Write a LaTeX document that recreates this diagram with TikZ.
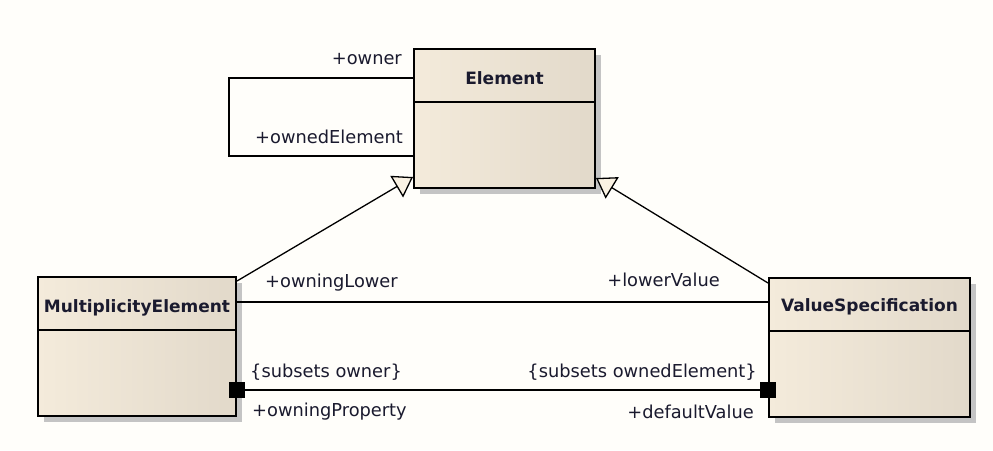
\documentclass[tikz,border=0pt]{standalone}
\usepackage{fontspec}
\setmainfont{DejaVu Sans}
\usetikzlibrary{arrows.meta,shadows,calc}
\definecolor{bg}{HTML}{FFFEFA}
\definecolor{cleft}{HTML}{F4EBDB}
\definecolor{cmid}{HTML}{FAF2E3}
\definecolor{cright}{HTML}{E2D9CA}
\definecolor{shadowgray}{HTML}{C4C4C4}
\definecolor{txt}{HTML}{1A1A2E}
\begin{document}
\begin{tikzpicture}[x=1pt,y=-1pt,
  umlbox/.style={draw=black, line width=2pt, left color=cleft, middle color=cmid, right color=cright,
    drop shadow={shadow xshift=6pt, shadow yshift=-6pt, fill=shadowgray, opacity=1},
    anchor=north west, inner sep=0pt},
  title/.style={font=\fontsize{17}{20}\selectfont\bfseries, text=txt, inner sep=0pt},
  role/.style={font=\fontsize{17.8}{20}\selectfont, text=txt, inner sep=0pt},
  conn/.style={draw=black, line width=1.6pt},
  gen/.style={draw=black, line width=1.3pt, -{Triangle[length=19pt,width=25pt,fill=cmid,line width=1.3pt]}},
  sq/.style={fill=black, minimum size=16pt, inner sep=0pt}
]
\fill[bg] (0,0) rectangle (993,450);
\useasboundingbox (0,0) rectangle (993,450);

% boxes
\node[umlbox, minimum width=181pt, minimum height=139pt] (elem) at (413,48) {};
\node[umlbox, minimum width=198pt, minimum height=139pt] (mult) at (37,276) {};
\node[umlbox, minimum width=201pt, minimum height=139pt] (vs) at (768,277) {};

% dividers
\draw[line width=1.6pt] ([yshift=-54pt]elem.north west) -- ([yshift=-54pt]elem.north east);
\draw[line width=1.6pt] ([yshift=-54pt]mult.north west) -- ([yshift=-54pt]mult.north east);
\draw[line width=1.6pt] ([yshift=-54pt]vs.north west) -- ([yshift=-54pt]vs.north east);

% titles
\node[title] (elemT) at ([yshift=-30pt]elem.north) {Element};
\node[title] (multT) at ([yshift=-32pt]mult.north) {MultiplicityElement};
\node[title] (vsT) at ([yshift=-30pt]vs.north) {ValueSpecification};

% self association
\draw[conn] ([yshift=-30pt]elem.north west) -- ++(-184,0) |- ([yshift=-108pt]elem.north west);
\node[role, anchor=east] (owner) at (402,59) {+owner};
\node[role, anchor=east] (ownedEl) at (403,137) {+ownedElement};

% generalizations
\draw[gen] ([yshift=-5pt]mult.north east) -- ([yshift=12pt]elem.south west);
\draw[gen] ([yshift=-6pt]vs.north west) -- ([yshift=11pt]elem.south east);

% association owningLower / lowerValue
\draw[conn] ([yshift=-26pt]mult.north east) -- ([yshift=-25pt]vs.north west);
\node[role, anchor=west] (owningLower) at (265,283) {+owningLower};
\node[role, anchor=east] (lowerValue) at (720,280) {+lowerValue};

% composition owningProperty / defaultValue
\node[sq] (sqL) at ([yshift=-114pt]mult.north east) {};
\node[sq] (sqR) at ([yshift=-113pt]vs.north west) {};
\draw[conn] (sqL.center) -- (sqR.center);
\node[role, anchor=west] (subOwner) at (250,372) {\{subsets owner\}};
\node[role, anchor=west] (owningProp) at (252,412) {+owningProperty};
\node[role, anchor=east] (subOwned) at (757,372) {\{subsets ownedElement\}};
\node[role, anchor=east] (defVal) at (754,412) {+defaultValue};
\end{tikzpicture}
\end{document}
